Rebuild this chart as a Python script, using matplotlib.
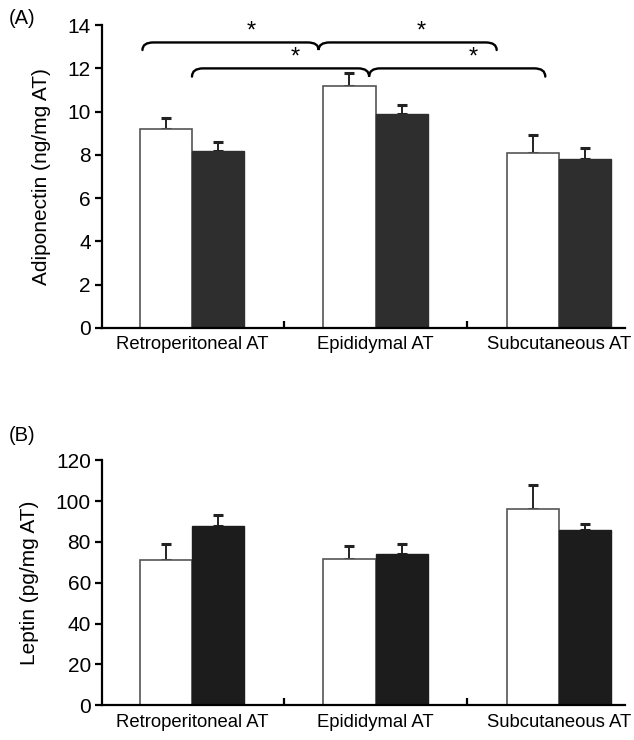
import numpy as np
import matplotlib.pyplot as plt
from matplotlib.path import Path
from matplotlib.patches import PathPatch

plt.rcParams['font.family'] = ['Liberation Sans', 'DejaVu Sans']

# Tecidos adiposos
grupos = ["Retroperitoneal AT", "Epididymal AT", "Subcutaneous AT"]

# Adiponectina (ng/mg AT)
adipo_branco = [9.2, 11.2, 8.1]
adipo_branco_erro = [0.5, 0.6, 0.8]
adipo_preto = [8.2, 9.9, 7.8]
adipo_preto_erro = [0.4, 0.4, 0.5]

# Leptina (pg/mg AT)
leptina_branco = [71, 71.5, 96]
leptina_branco_erro = [8, 6.5, 12]
leptina_preto = [88, 74, 86]
leptina_preto_erro = [5, 5, 3]


def chave(ax, x0, xc, x1, y, h, d=0.06):
    # Chave horizontal com ponta no meio (xc)
    yb = y - h
    verts = [(x0, yb), (x0, y), (x0 + d, y),
             (xc - d, y), (xc, y), (xc, yb),
             (xc, y), (xc + d, y),
             (x1 - d, y), (x1, y), (x1, yb)]
    codes = [Path.MOVETO, Path.CURVE3, Path.CURVE3,
             Path.LINETO, Path.CURVE3, Path.CURVE3,
             Path.CURVE3, Path.CURVE3,
             Path.LINETO, Path.CURVE3, Path.CURVE3]
    ax.add_patch(PathPatch(Path(verts, codes), fill=False, lw=1.7,
                           edgecolor='black', capstyle='round', clip_on=False))


def painel(ax, branco, branco_erro, preto, preto_erro, cor_preta, ymax, passo, ylabel):
    x = np.arange(len(grupos))
    w = 0.285
    ax.bar(x - w / 2, branco, w, color='white', edgecolor='#555555', lw=1.2, zorder=2)
    ax.bar(x + w / 2, preto, w, color=cor_preta, edgecolor=cor_preta, lw=1.0, zorder=2)
    ax.errorbar(x - w / 2, branco, yerr=[np.zeros(3), branco_erro], fmt='none',
                ecolor='#222222', elinewidth=1.4, capsize=3.5, capthick=2.2, zorder=1)
    ax.errorbar(x + w / 2, preto, yerr=[np.zeros(3), preto_erro], fmt='none',
                ecolor='#222222', elinewidth=1.4, capsize=3.5, capthick=2.2, zorder=1)

    ax.set_xlim(-0.49, 2.36)
    ax.set_ylim(0, ymax)
    ax.set_yticks(np.arange(0, ymax + 1, passo))
    ax.set_xticks(x)
    ax.set_xticklabels(grupos, fontsize=13.3)
    ax.tick_params(axis='x', length=0, pad=6)
    ax.set_xticks([0.5, 1.5], minor=True)
    ax.tick_params(axis='x', which='minor', direction='in', length=5, width=1.6)
    ax.tick_params(axis='y', labelsize=15, length=5, width=1.6, direction='out', pad=3)
    for s in ['top', 'right']:
        ax.spines[s].set_visible(False)
    for s in ['left', 'bottom']:
        ax.spines[s].set_linewidth(1.6)
    ax.set_ylabel(ylabel, fontsize=15, labelpad=12)


fig = plt.figure(figsize=(6.34, 7.4), dpi=100)
axA = fig.add_axes([0.161, 0.557, 0.825, 0.409])
axB = fig.add_axes([0.161, 0.047, 0.825, 0.331])

painel(axA, adipo_branco, adipo_branco_erro, adipo_preto, adipo_preto_erro,
       '#2e2e2e', 14, 2, "Adiponectin (ng/mg AT)")
painel(axB, leptina_branco, leptina_branco_erro, leptina_preto, leptina_preto_erro,
       '#1c1c1c', 120, 20, "Leptin (pg/mg AT)")

# Comparações significativas
chave(axA, -0.27, 0.69, 1.66, 13.2, 0.35)
chave(axA, 0.0, 0.965, 1.925, 12.0, 0.38)
for xs, ys in [(0.32, 13.7), (1.25, 13.7), (0.565, 12.5), (1.535, 12.5)]:
    axA.text(xs, ys, "*", ha='center', va='center', fontsize=17)

fig.text(0.014, 0.975, "(A)", fontsize=14.5, va='center')
fig.text(0.014, 0.411, "(B)", fontsize=14.5, va='center')

plt.savefig("out.png", dpi=100)
